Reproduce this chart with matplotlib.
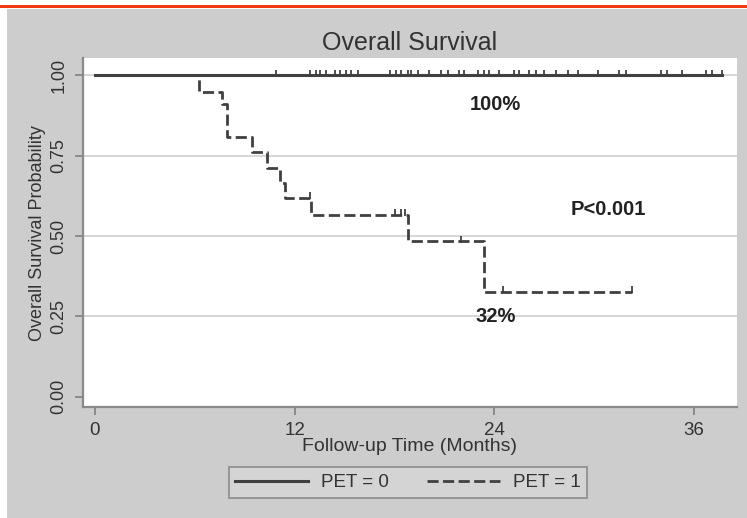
import matplotlib.pyplot as plt
from matplotlib.patches import Rectangle

plt.rcParams['font.family'] = ['Liberation Sans', 'DejaVu Sans']

# PET = 0: no events, censored at these months
pet0_end = 37.7
pet0_censor = [10.9, 12.9, 13.3, 13.5, 13.9, 14.4, 14.7, 15.1, 15.4, 15.8,
               17.7, 18.1, 18.4, 18.8, 19.0, 19.4, 20.1, 20.8, 21.2, 21.9,
               22.2, 23.0, 23.4, 23.7, 24.3, 25.2, 25.5, 26.1, 26.5, 27.0,
               27.7, 28.4, 29.0, 30.2, 31.5, 31.9, 34.0, 34.4, 35.3, 36.7,
               37.1, 37.7]

# PET = 1: Kaplan-Meier steps
pet1_times = [0, 6.27, 7.63, 7.93, 9.42, 10.35, 11.1, 11.4, 13.0, 18.8, 23.4]
pet1_surv = [1.0, 0.949, 0.911, 0.808, 0.763, 0.712, 0.665, 0.619, 0.566, 0.483, 0.327]
pet1_end = 32.3
pet1_censor_t = [12.9, 18.0, 18.4, 18.6, 22.0, 24.5, 32.3]
pet1_censor_s = [0.619, 0.566, 0.566, 0.566, 0.483, 0.327, 0.327]

xticks = [0, 12, 24, 36]
yticks = [0.00, 0.25, 0.50, 0.75, 1.00]
ytick_labels = ['0.00', '0.25', '0.50', '0.75', '1.00']

W, H = 747, 518
fig = plt.figure(figsize=(W / 100, H / 100), dpi=100, facecolor='white')

# grey page + red rule on top
fig.add_artist(Rectangle((7 / W, 0), 1 - 7 / W, 1 - 9 / H, transform=fig.transFigure,
                         facecolor='#cdcdcd', edgecolor='none', zorder=0))
fig.add_artist(Rectangle((0, 1 - 7.5 / H), 1, 3 / H, transform=fig.transFigure,
                         facecolor='#f03a14', edgecolor='none', zorder=0))

ax = fig.add_axes([83 / W, 1 - 407 / H, (737 - 83) / W, (407 - 58) / H])
ax.set_facecolor('white')
ax.set_xlim(-0.72, 38.58)
ax.set_ylim(-0.032, 1.054)

for y in [0.25, 0.5, 0.75, 1.0]:
    ax.axhline(y, color='#cfcfcf', lw=1.2, zorder=1)

line_col = '#404040'
ax.plot([0, pet0_end], [1.0, 1.0], color=line_col, lw=2.2, label='PET = 0', zorder=3)
ax.vlines(pet0_censor, 0.996, 1.018, color=line_col, lw=1.3, zorder=3)

ax.step(pet1_times + [pet1_end], pet1_surv + [pet1_surv[-1]], where='post',
        color=line_col, lw=2.0, linestyle=(0, (4, 1.6)), label='PET = 1', zorder=3)
ax.vlines(pet1_censor_t, [s - 0.004 for s in pet1_censor_s],
          [s + 0.018 for s in pet1_censor_s], color=line_col, lw=1.3, zorder=3)

ax.text(24.07, 0.893, '100%', ha='center', va='baseline', fontsize=14.5,
        fontweight='bold', color='#222222')
ax.text(30.83, 0.566, 'P<0.001', ha='center', va='baseline', fontsize=14.5,
        fontweight='bold', color='#222222')
ax.text(24.07, 0.233, '32%', ha='center', va='baseline', fontsize=14.5,
        fontweight='bold', color='#222222')

ax.set_xticks(xticks)
ax.set_xticklabels([str(t) for t in xticks])
ax.set_yticks(yticks)
ax.set_yticklabels(ytick_labels, rotation=90, va='center')
ax.tick_params(axis='x', length=6, width=1.2, color='#808080', pad=5,
               labelsize=13.5, labelcolor='#333333')
ax.tick_params(axis='y', length=6, width=1.2, color='#808080', pad=5,
               labelsize=13, labelcolor='#333333')

for side in ['top', 'right']:
    ax.spines[side].set_visible(False)
for side in ['left', 'bottom']:
    ax.spines[side].set_color('#8a8a8a')
    ax.spines[side].set_linewidth(1.6)

fig.text(410 / W, 1 - 50 / H, 'Overall Survival', ha='center', va='baseline',
         fontsize=18, color='#333333')
fig.text(409 / W, 1 - 451 / H, 'Follow-up Time (Months)', ha='center', va='baseline',
         fontsize=14, color='#333333')
fig.text(38 / W, 1 - 233 / H, 'Overall Survival Probability', ha='center', va='center',
         rotation=90, fontsize=13, color='#333333')

leg = fig.legend(loc='center', bbox_to_anchor=(408 / W, 1 - 482.5 / H), ncol=2,
                 fontsize=13.5, handlelength=3.9, columnspacing=2.0, handletextpad=0.7,
                 fancybox=False, frameon=True, borderpad=0.35)
leg.get_frame().set_facecolor('#d6d6d6')
leg.get_frame().set_edgecolor('#7a7a7a')
leg.get_frame().set_linewidth(1.2)
for txt in leg.get_texts():
    txt.set_color('#333333')

fig.savefig('out.png', dpi=100, facecolor='white')
